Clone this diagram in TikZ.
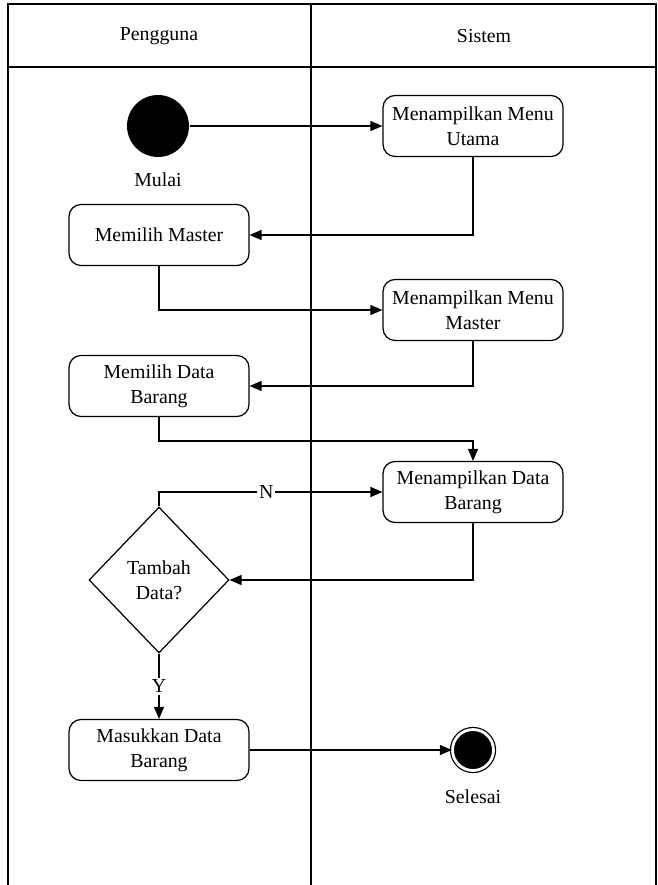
\documentclass[tikz,border=0pt]{standalone}
\usepackage{fontspec}
\setmainfont{Liberation Serif}
\usetikzlibrary{arrows.meta,shapes.geometric}
\tikzset{
  aksi/.style={draw, rounded corners=0.24cm, align=center, minimum width=3.6cm, minimum height=1.22cm, inner sep=2pt},
  cabang/.style={draw, diamond, align=center, minimum width=2.8cm, minimum height=2.92cm, inner sep=0pt},
  awal/.style={circle, fill=black, minimum size=1.24cm, inner sep=0pt},
  akhir/.style={circle, draw, fill=black, double=white, double distance=1.6pt, minimum size=0.82cm, inner sep=0pt},
  label/.style={fill=white, inner sep=1pt}
}
\begin{document}
\begin{tikzpicture}[x=0.02cm, y=-0.02cm, >={Triangle[length=6.8pt,width=5.7pt]}, line width=0.7pt,
    font=\fontsize{11.3}{14.2}\selectfont]
\useasboundingbox (0,0) rectangle (657,885);

\draw (8,885)--(8,4)--(656,4)--(656,885);
\draw (8,67)--(656,67);
\draw (311,4)--(311,885);
\node (pengguna) at (159,36) {Pengguna};
\node (sistem) at (484,36) {Sistem};

\node[awal] (mulai) at (158,126) {};
\node (tmulai) at (158,180) {Mulai};
\node[aksi] (utama) at (473,126) {Menampilkan Menu\\Utama};
\node[aksi] (master) at (159,235) {Memilih Master};
\node[aksi] (menumaster) at (473,310) {Menampilkan Menu\\Master};
\node[aksi] (pilihdata) at (159,386) {Memilih Data\\Barang};
\node[aksi] (databarang) at (473,492) {Menampilkan Data\\Barang};
\node[cabang] (cek) at (159,580) {Tambah\\Data?};
\node[aksi] (masukkan) at (159,750) {Masukkan Data\\Barang};
\node[akhir] (selesai) at (473,750) {};
\node (tselesai) at (473,797) {Selesai};

\draw[->] (mulai) -- (utama);
\draw[->] (utama) |- (master);
\draw[->] (master) |- (menumaster);
\draw[->] (menumaster) |- (pilihdata);
\draw[->] (pilihdata.south) -- ++(0,24) -| (databarang.north);
\draw[->] (cek.north) |- node[label, pos=0.74] {N} (databarang.west);
\draw[->] (databarang) |- (cek);
\draw[->] (cek) -- node[label] {Y} (masukkan);
\draw[->] (masukkan) -- (selesai);
\end{tikzpicture}
\end{document}
